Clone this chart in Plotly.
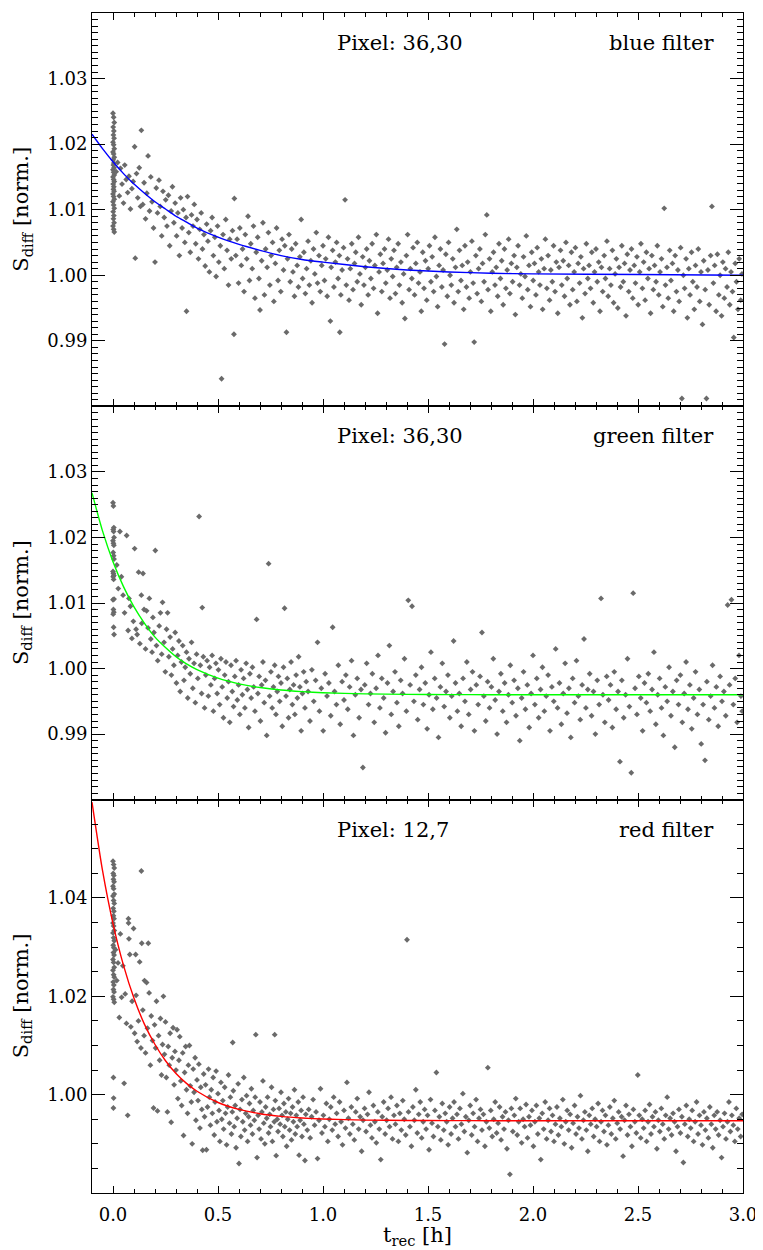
import plotly.graph_objects as go
from plotly.subplots import make_subplots

# ---------------- data ----------------
fit_t = [-0.1, -0.05, 0.0, 0.05, 0.1, 0.15, 0.2, 0.25, 0.3, 0.35, 0.4, 0.5, 0.6, 0.7,
         0.8, 0.9, 1.0, 1.2, 1.4, 1.6, 1.8, 2.0, 2.5, 3.0]
blue_fit = [1.0215, 1.0193, 1.0173, 1.0155, 1.0139, 1.0125, 1.0112, 1.0101, 1.0090, 1.0081,
            1.0072, 1.0058, 1.0047, 1.0038, 1.0030, 1.0024, 1.0020, 1.0013, 1.0008, 1.0005,
            1.0003, 1.0002, 1.0001, 1.0000]
green_fit = [1.0268, 1.0210, 1.0163, 1.0125, 1.0094, 1.0069, 1.0048, 1.0032, 1.0018, 1.0007,
             0.99983, 0.99853, 0.99767, 0.9971, 0.99672, 0.99648, 0.99631, 0.99614, 0.99606,
             0.99603, 0.99601, 0.9960, 0.9960, 0.9960]
red_fit = [1.0595, 1.0456, 1.0348, 1.0263, 1.0196, 1.0143, 1.0102, 1.0069, 1.0043, 1.0023,
           1.0007, 0.99841, 0.9970, 0.99613, 0.99559, 0.99525, 0.99504, 0.99483, 0.99475,
           0.99472, 0.99471, 0.9947, 0.9947, 0.9947]

blue_t = [
    0.000, 0.003, 0.006, 0.001, 0.004, 0.002, 0.005, 0.000, 0.003, 0.006,
    0.000, 0.003, 0.006, 0.001, 0.004, 0.002, 0.005, 0.000, 0.003, 0.006,
    0.000, 0.003, 0.006, 0.001, 0.004, 0.002, 0.005, 0.000, 0.003, 0.006,
    0.000, 0.003, 0.006, 0.001, 0.004, 0.002, 0.005, 0.000, 0.003, 0.006,
    0.015, 0.022, 0.030, 0.036, 0.043, 0.050, 0.056, 0.063, 0.070, 0.076,
    0.083, 0.090, 0.096, 0.103, 0.106, 0.112, 0.118, 0.125, 0.131, 0.135,
    0.142, 0.148, 0.155, 0.161, 0.167, 0.174, 0.180, 0.186, 0.193, 0.200,
    0.206, 0.212, 0.219, 0.225, 0.232, 0.238, 0.244, 0.251, 0.257, 0.264,
    0.270, 0.277, 0.283, 0.290, 0.296, 0.303, 0.309, 0.316, 0.322, 0.329,
    0.335, 0.342, 0.348, 0.350, 0.355, 0.361, 0.368, 0.374, 0.381, 0.387,
    0.394, 0.400, 0.407, 0.413, 0.420, 0.426, 0.433, 0.439, 0.446, 0.452,
    0.459, 0.465, 0.472, 0.478, 0.485, 0.491, 0.498, 0.504, 0.511, 0.517,
    0.524, 0.530, 0.537, 0.543, 0.550, 0.556, 0.563, 0.569, 0.576, 0.578,
    0.585, 0.591, 0.598, 0.604, 0.611, 0.617, 0.624, 0.630, 0.637, 0.643,
    0.650, 0.656, 0.663, 0.669, 0.676, 0.682, 0.689, 0.695, 0.700, 0.708,
    0.714, 0.721, 0.727, 0.734, 0.740, 0.747, 0.753, 0.760, 0.766, 0.773,
    0.779, 0.786, 0.792, 0.799, 0.805, 0.812, 0.818, 0.826, 0.831, 0.838,
    0.844, 0.851, 0.857, 0.864, 0.870, 0.877, 0.883, 0.890, 0.896, 0.903,
    0.909, 0.916, 0.922, 0.929, 0.935, 0.942, 0.948, 0.955, 0.961, 0.968,
    0.974, 0.981, 0.987, 0.994, 1.000, 1.007, 1.013, 1.020, 1.026, 1.035,
    1.039, 1.046, 1.052, 1.059, 1.065, 1.072, 1.078, 1.080, 1.085, 1.091,
    1.098, 1.105, 1.111, 1.117, 1.124, 1.130, 1.137, 1.143, 1.150, 1.156,
    1.163, 1.169, 1.176, 1.182, 1.189, 1.195, 1.202, 1.208, 1.215, 1.221,
    1.228, 1.234, 1.241, 1.247, 1.254, 1.260, 1.267, 1.273, 1.280, 1.286,
    1.293, 1.299, 1.306, 1.312, 1.319, 1.325, 1.332, 1.338, 1.345, 1.351,
    1.358, 1.364, 1.371, 1.377, 1.384, 1.390, 1.397, 1.403, 1.410, 1.416,
    1.423, 1.429, 1.436, 1.442, 1.449, 1.455, 1.462, 1.468, 1.475, 1.481,
    1.488, 1.494, 1.501, 1.507, 1.514, 1.520, 1.527, 1.533, 1.540, 1.546,
    1.553, 1.559, 1.566, 1.572, 1.579, 1.585, 1.592, 1.598, 1.605, 1.611,
    1.618, 1.624, 1.631, 1.637, 1.644, 1.650, 1.657, 1.663, 1.670, 1.676,
    1.683, 1.689, 1.696, 1.702, 1.709, 1.715, 1.720, 1.728, 1.734, 1.741,
    1.747, 1.754, 1.760, 1.767, 1.773, 1.780, 1.786, 1.793, 1.799, 1.806,
    1.812, 1.819, 1.825, 1.832, 1.838, 1.845, 1.851, 1.858, 1.864, 1.871,
    1.877, 1.884, 1.890, 1.897, 1.903, 1.910, 1.916, 1.923, 1.929, 1.936,
    1.942, 1.949, 1.955, 1.962, 1.968, 1.975, 1.981, 1.988, 1.994, 2.001,
    2.007, 2.014, 2.020, 2.027, 2.033, 2.040, 2.046, 2.053, 2.059, 2.066,
    2.072, 2.079, 2.085, 2.092, 2.098, 2.105, 2.111, 2.118, 2.124, 2.131,
    2.137, 2.144, 2.150, 2.157, 2.163, 2.170, 2.176, 2.183, 2.189, 2.196,
    2.202, 2.209, 2.215, 2.222, 2.228, 2.235, 2.241, 2.248, 2.254, 2.261,
    2.267, 2.274, 2.280, 2.287, 2.293, 2.300, 2.306, 2.313, 2.319, 2.326,
    2.332, 2.339, 2.345, 2.352, 2.358, 2.365, 2.371, 2.378, 2.384, 2.391,
    2.397, 2.404, 2.410, 2.417, 2.423, 2.430, 2.436, 2.443, 2.449, 2.456,
    2.462, 2.469, 2.475, 2.482, 2.488, 2.495, 2.501, 2.508, 2.514, 2.521,
    2.527, 2.534, 2.540, 2.547, 2.553, 2.560, 2.566, 2.573, 2.579, 2.586,
    2.592, 2.599, 2.605, 2.612, 2.618, 2.625, 2.631, 2.638, 2.644, 2.651,
    2.657, 2.664, 2.670, 2.677, 2.683, 2.690, 2.696, 2.703, 2.709, 2.716,
    2.722, 2.729, 2.735, 2.742, 2.748, 2.755, 2.761, 2.768, 2.774, 2.781,
    2.787, 2.794, 2.800, 2.807, 2.813, 2.820, 2.826, 2.833, 2.839, 2.846,
    2.852, 2.859, 2.865, 2.872, 2.878, 2.885, 2.891, 2.898, 2.904, 2.911,
    2.917, 2.924, 2.930, 2.937, 2.943, 2.950, 2.956, 2.963, 2.969, 2.976,
    2.982, 2.989, 2.995,
]
blue_s = [
    1.0247, 1.0241, 1.0233, 1.0226, 1.0220, 1.0214, 1.0209, 1.0203, 1.0199, 1.0193,
    1.0188, 1.0185, 1.0180, 1.0176, 1.0171, 1.0168, 1.0164, 1.0161, 1.0157, 1.0153,
    1.0150, 1.0146, 1.0143, 1.0139, 1.0135, 1.0131, 1.0128, 1.0124, 1.0120, 1.0116,
    1.0112, 1.0107, 1.0102, 1.0097, 1.0091, 1.0086, 1.0080, 1.0075, 1.0070, 1.0066,
    1.0158, 1.0172, 1.0121, 1.0163, 1.0139, 1.0110, 1.0168, 1.0146, 1.0126, 1.0151,
    1.0101, 1.0132, 1.0143, 1.0196, 1.0026, 1.0155, 1.0118, 1.0164, 1.0105, 1.0221,
    1.0108, 1.0141, 1.0086, 1.0125, 1.0182, 1.0098, 1.0150, 1.0112, 1.0072, 1.0020,
    1.0133, 1.0095, 1.0145, 1.0105, 1.0060, 1.0128, 1.0088, 1.0115, 1.0075, 1.0122,
    1.0045, 1.0098, 1.0135, 1.0080, 1.0110, 1.0060, 1.0095, 1.0030, 1.0118, 1.0072,
    1.0100, 1.0050, 1.0088, 0.9945, 1.0120, 1.0065, 1.0035, 1.0092, 1.0075, 1.0108,
    1.0048, 1.0085, 1.0025, 1.0070, 1.0095, 1.0040, 1.0062, 1.0014, 1.0078, 1.0052,
    1.0005, 1.0068, 1.0088, 1.0030, 1.0058, 0.9998, 1.0075, 1.0020, 1.0045, 0.9842,
    1.0062, 1.0010, 1.0085, 1.0038, 0.9985, 1.0055, 1.0025, 1.0068, 0.9910, 1.0117,
    1.0030, 1.0055, 0.9988, 1.0072, 1.0015, 1.0040, 0.9975, 1.0062, 1.0025, 1.0090,
    0.9992, 1.0048, 1.0010, 1.0075, 0.9965, 1.0035, 1.0058, 0.9995, 0.9947, 1.0022,
    1.0080, 0.9970, 1.0040, 1.0012, 1.0065, 0.9985, 1.0030, 1.0050, 0.9960, 1.0018,
    1.0072, 0.9992, 1.0038, 0.9975, 1.0055, 1.0008, 1.0045, 0.9913, 1.0025, 1.0062,
    0.9990, 1.0040, 1.0005, 0.9968, 1.0048, 1.0015, 0.9982, 1.0028, 1.0085, 0.9995,
    1.0035, 0.9972, 1.0010, 1.0052, 0.9985, 1.0022, 0.9958, 1.0040, 1.0002, 1.0065,
    0.9988, 1.0030, 0.9975, 1.0015, 1.0045, 0.9992, 1.0025, 0.9968, 1.0058, 0.9930,
    1.0012, 1.0038, 0.9982, 1.0020, 1.0050, 0.9995, 1.0030, 0.9913, 0.9970, 1.0008,
    1.0042, 1.0115, 0.9985, 1.0025, 0.9962, 1.0010, 1.0048, 0.9978, 1.0018, 1.0035,
    0.9990, 1.0058, 1.0002, 0.9955, 1.0028, 0.9985, 1.0012, 1.0040, 0.9970, 1.0022,
    0.9995, 1.0048, 0.9980, 1.0015, 1.0062, 0.9942, 1.0005, 1.0032, 0.9975, 1.0018,
    1.0040, 0.9988, 1.0008, 1.0055, 0.9965, 1.0025, 0.9998, 1.0038, 0.9972, 1.0012,
    1.0048, 0.9985, 1.0020, 0.9958, 1.0002, 0.9934, 1.0030, 1.0062, 0.9978, 1.0010,
    0.9995, 1.0042, 0.9970, 1.0018, 1.0050, 0.9988, 1.0005, 0.9945, 1.0035, 0.9980,
    1.0022, 0.9962, 1.0010, 1.0045, 0.9990, 1.0028, 0.9975, 1.0058, 0.9998, 0.9952,
    1.0015, 1.0040, 0.9982, 1.0008, 0.9895, 1.0032, 0.9968, 1.0050, 1.0000, 0.9985,
    1.0025, 0.9958, 1.0012, 1.0070, 0.9975, 1.0038, 0.9992, 1.0015, 0.9948, 1.0045,
    0.9982, 1.0020, 0.9965, 1.0005, 1.0052, 0.9988, 0.9898, 1.0030, 0.9972, 1.0010,
    1.0040, 0.9960, 1.0018, 0.9990, 1.0062, 1.0092, 0.9978, 1.0025, 0.9945, 1.0005,
    1.0035, 0.9985, 1.0012, 0.9968, 1.0048, 0.9995, 1.0022, 0.9955, 1.0040, 0.9980,
    1.0008, 1.0055, 0.9972, 1.0018, 0.9990, 1.0030, 0.9940, 1.0012, 1.0045, 0.9985,
    1.0002, 0.9965, 1.0028, 0.9998, 1.0060, 0.9978, 1.0015, 0.9952, 1.0035, 0.9992,
    1.0018, 0.9970, 1.0042, 1.0005, 0.9985, 1.0025, 0.9948, 1.0010, 1.0055, 0.9980,
    1.0030, 0.9962, 1.0008, 0.9990, 1.0045, 0.9975, 1.0020, 0.9942, 1.0012, 1.0038,
    0.9985, 1.0022, 0.9968, 1.0050, 0.9995, 1.0015, 0.9955, 1.0035, 0.9978, 1.0005,
    1.0042, 0.9960, 1.0018, 0.9988, 1.0028, 0.9935, 1.0010, 0.9972, 1.0048, 0.9995,
    1.0015, 0.9980, 1.0035, 0.9958, 1.0005, 1.0040, 0.9990, 1.0020, 0.9945, 1.0012,
    0.9975, 1.0030, 0.9995, 1.0052, 0.9968, 1.0010, 0.9985, 1.0038, 0.9958, 1.0002,
    1.0025, 0.9950, 1.0012, 0.9982, 1.0045, 0.9990, 1.0018, 0.9938, 1.0032, 0.9975,
    1.0008, 1.0040, 0.9965, 1.0015, 0.9988, 1.0028, 0.9955, 1.0005, 1.0048, 0.9980,
    1.0020, 0.9962, 1.0035, 0.9995, 1.0010, 0.9942, 1.0030, 0.9978, 1.0015, 0.9990,
    1.0045, 0.9970, 1.0005, 1.0025, 0.9952, 1.0102, 0.9985, 1.0012, 0.9965, 1.0038,
    0.9992, 1.0018, 0.9945, 1.0030, 0.9975, 1.0008, 0.9960, 1.0042, 0.9812, 1.0000,
    0.9980, 1.0025, 0.9935, 1.0010, 0.9970, 1.0035, 0.9990, 0.9948, 1.0015, 0.9982,
    1.0040, 0.9960, 1.0005, 0.9925, 1.0022, 0.9978, 0.9812, 1.0008, 0.9955, 1.0030,
    1.0105, 0.9988, 1.0015, 0.9945, 1.0032, 0.9970, 1.0000, 0.9938, 1.0020, 0.9965,
    1.0010, 0.9982, 1.0035, 0.9955, 1.0005, 0.9975, 0.9905, 1.0018, 0.9990, 0.9948,
    1.0025, 0.9962, 1.0002,
]

green_t = [
    0.000, 0.002, 0.004, 0.001, 0.003, 0.005, 0.000, 0.002, 0.004, 0.001,
    0.003, 0.005, 0.000, 0.002, 0.004, 0.001, 0.003, 0.005, 0.000, 0.002,
    0.004, 0.001, 0.003, 0.005,
    0.018, 0.025, 0.033, 0.040, 0.048, 0.055, 0.065, 0.072, 0.076, 0.083,
    0.090, 0.097, 0.103, 0.110, 0.115, 0.122, 0.128, 0.135, 0.137, 0.143,
    0.148, 0.155, 0.160, 0.167, 0.173, 0.180, 0.186, 0.190, 0.195, 0.2015,
    0.207, 0.213, 0.220, 0.226, 0.232, 0.236, 0.243, 0.249, 0.255, 0.260,
    0.266, 0.272, 0.278, 0.284, 0.290, 0.296, 0.302, 0.308, 0.314, 0.320,
    0.326, 0.332, 0.338, 0.344, 0.350, 0.356, 0.362, 0.368, 0.374, 0.380,
    0.386, 0.392, 0.398, 0.404, 0.410, 0.416, 0.422, 0.425, 0.430, 0.436,
    0.442, 0.448, 0.454, 0.460, 0.466, 0.472, 0.478, 0.484, 0.490, 0.496,
    0.502, 0.508, 0.514, 0.520, 0.526, 0.532, 0.538, 0.544, 0.550, 0.556,
    0.562, 0.568, 0.574, 0.580, 0.586, 0.592, 0.598, 0.604, 0.610, 0.616,
    0.622, 0.628, 0.634, 0.640, 0.646, 0.652, 0.658, 0.664, 0.670, 0.676,
    0.684, 0.690, 0.696, 0.702, 0.708, 0.714, 0.720, 0.726, 0.732, 0.741,
    0.746, 0.752, 0.758, 0.764, 0.770, 0.776, 0.782, 0.788, 0.794, 0.800,
    0.806, 0.812, 0.817, 0.824, 0.830, 0.836, 0.842, 0.848, 0.854, 0.860,
    0.866, 0.872, 0.878, 0.884, 0.890, 0.896, 0.902, 0.908, 0.914, 0.920,
    0.929, 0.938, 0.947, 0.956, 0.965, 0.974, 0.983, 0.992, 1.001, 1.010,
    1.019, 1.028, 1.037, 1.046, 1.055, 1.064, 1.073, 1.082, 1.091, 1.100,
    1.109, 1.118, 1.127, 1.136, 1.145, 1.154, 1.163, 1.172, 1.181, 1.190,
    1.199, 1.208, 1.217, 1.226, 1.235, 1.244, 1.253, 1.262, 1.271, 1.280,
    1.289, 1.298, 1.307, 1.316, 1.325, 1.334, 1.343, 1.352, 1.361, 1.370,
    1.379, 1.388, 1.397, 1.406, 1.415, 1.424, 1.433, 1.442, 1.451, 1.460,
    1.469, 1.478, 1.487, 1.496, 1.505, 1.514, 1.523, 1.532, 1.541, 1.550,
    1.559, 1.568, 1.577, 1.586, 1.595, 1.604, 1.613, 1.622, 1.631, 1.640,
    1.649, 1.658, 1.667, 1.676, 1.685, 1.694, 1.703, 1.712, 1.721, 1.730,
    1.739, 1.748, 1.757, 1.766, 1.775, 1.784, 1.793, 1.802, 1.811, 1.820,
    1.829, 1.838, 1.847, 1.856, 1.865, 1.874, 1.883, 1.892, 1.901, 1.910,
    1.919, 1.928, 1.937, 1.946, 1.955, 1.964, 1.973, 1.982, 1.991, 2.000,
    2.009, 2.018, 2.027, 2.036, 2.045, 2.054, 2.063, 2.072, 2.081, 2.090,
    2.099, 2.108, 2.117, 2.126, 2.135, 2.144, 2.153, 2.162, 2.171, 2.180,
    2.189, 2.198, 2.207, 2.216, 2.225, 2.234, 2.243, 2.252, 2.261, 2.270,
    2.279, 2.288, 2.297, 2.306, 2.315, 2.324, 2.333, 2.342, 2.351, 2.360,
    2.369, 2.378, 2.387, 2.396, 2.405, 2.414, 2.423, 2.432, 2.441, 2.450,
    2.459, 2.468, 2.477, 2.486, 2.495, 2.504, 2.513, 2.522, 2.531, 2.540,
    2.549, 2.558, 2.567, 2.576, 2.585, 2.594, 2.603, 2.612, 2.621, 2.630,
    2.639, 2.648, 2.657, 2.666, 2.675, 2.684, 2.693, 2.702, 2.711, 2.720,
    2.729, 2.738, 2.747, 2.756, 2.765, 2.774, 2.783, 2.792, 2.801, 2.810,
    2.819, 2.828, 2.837, 2.846, 2.855, 2.864, 2.873, 2.882, 2.891, 2.900,
    2.909, 2.918, 2.927, 2.936, 2.945, 2.954, 2.963, 2.972, 2.981, 2.990,
    2.996,
]
green_s = [
    1.0253, 1.0248, 1.0215, 1.0212, 1.0209, 1.0200, 1.0195, 1.0191, 1.0188, 1.0177,
    1.0172, 1.0167, 1.0148, 1.0145, 1.0142, 1.0140, 1.0136, 1.0106, 1.0105, 1.0090,
    1.0086, 1.0083, 1.0063, 1.0052,
    1.0158, 1.0122, 1.0209, 1.0140, 1.0112, 1.0085, 1.0203, 1.0058, 1.0107, 1.0095,
    1.0046, 1.0072, 1.0183, 1.0060, 1.0052, 1.0147, 1.0038, 1.0112, 1.0069, 1.0145,
    1.0090, 1.0030, 1.0088, 1.0062, 1.0107, 1.0045, 1.0025, 1.0078, 1.0055, 1.0180,
    1.0035, 1.0012, 1.0065, 1.0085, 1.0022, 1.0101, 1.0040, 0.9995, 1.0060, 1.0085,
    1.0018, 1.0048, 0.9990, 1.0030, 1.0005, 1.0055, 0.9978, 1.0020, 1.0042, 0.9965,
    1.0010, 1.0035, 0.9982, 1.0002, 1.0025, 0.9955, 1.0015, 0.9992, 1.0040, 0.9970,
    1.0008, 0.9948, 1.0022, 0.9985, 1.0232, 1.0005, 0.9962, 1.0093, 1.0018, 0.9940,
    0.9990, 1.0012, 0.9958, 1.0002, 0.9975, 1.0020, 0.9935, 0.9985, 1.0008, 0.9962,
    0.9998, 0.9945, 1.0015, 0.9972, 0.9925, 0.9990, 1.0010, 0.9955, 0.9980, 0.9918,
    1.0005, 0.9965, 0.9942, 0.9988, 1.0012, 0.9952, 0.9975, 0.9930, 0.9998, 0.9960,
    0.9985, 0.9940, 1.0008, 0.9968, 0.9910, 0.9992, 0.9955, 1.0002, 0.9972, 0.9935,
    1.0075, 0.9962, 0.9988, 0.9920, 0.9975, 1.0010, 0.9948, 0.9982, 0.9898, 1.0160,
    0.9958, 0.9995, 0.9940, 0.9972, 1.0005, 0.9930, 0.9965, 0.9988, 0.9950, 0.9978,
    0.9912, 1.0002, 1.0092, 0.9958, 0.9985, 0.9925, 0.9968, 1.0010, 0.9945, 0.9975,
    0.9930, 0.9990, 0.9955, 1.0018, 0.9972, 0.9905, 0.9962, 0.9995, 0.9940, 0.9980,
    0.9965, 0.9920, 0.9998, 0.9950, 0.9982, 1.0040, 0.9935, 0.9970, 0.9905, 0.9992,
    0.9958, 0.9978, 0.9928, 1.0063, 0.9965, 0.9945, 1.0005, 0.9915, 0.9980, 0.9952,
    0.9990, 0.9938, 0.9972, 1.0012, 0.9898, 0.9960, 0.9985, 0.9925, 0.9968, 0.9849,
    0.9975, 1.0008, 0.9945, 0.9962, 0.9992, 0.9918, 0.9970, 1.0020, 0.9940, 0.9985,
    0.9955, 0.9902, 0.9978, 1.0035, 0.9930, 0.9965, 0.9995, 0.9948, 0.9912, 0.9982,
    0.9962, 1.0015, 0.9935, 1.0104, 0.9975, 1.0095, 0.9950, 0.9990, 0.9922, 0.9968,
    1.0002, 0.9945, 0.9978, 0.9908, 0.9960, 1.0025, 0.9938, 0.9985, 0.9955, 0.9895,
    0.9972, 1.0008, 0.9942, 0.9965, 0.9990, 0.9925, 0.9958, 1.0042, 0.9978, 0.9935,
    0.9962, 0.9912, 0.9985, 0.9950, 1.0010, 0.9930, 0.9968, 0.9995, 0.9905, 0.9975,
    0.9945, 0.9988, 1.0055, 0.9958, 0.9920, 0.9980, 0.9940, 0.9972, 1.0015, 0.9952,
    0.9900, 0.9965, 0.9992, 0.9935, 0.9978, 0.9918, 0.9960, 1.0005, 0.9948, 0.9982,
    0.9928, 0.9970, 0.9890, 0.9955, 0.9995, 0.9938, 0.9975, 0.9910, 0.9962, 1.0020,
    0.9945, 0.9985, 0.9925, 0.9968, 1.0002, 0.9935, 0.9958, 0.9990, 0.9905, 0.9972,
    0.9950, 1.0030, 0.9940, 0.9978, 0.9915, 0.9962, 1.0008, 0.9932, 0.9970, 0.9895,
    0.9985, 0.9948, 1.0012, 0.9958, 0.9922, 0.9975, 1.0045, 0.9940, 0.9968, 0.9992,
    0.9928, 0.9965, 0.9900, 0.9982, 0.9945, 1.0107, 0.9960, 0.9918, 0.9988, 0.9952,
    0.9975, 0.9910, 0.9995, 0.9938, 0.9965, 0.9858, 0.9982, 0.9925, 0.9960, 1.0015,
    0.9942, 0.9841, 1.0115, 0.9970, 0.9930, 0.9988, 0.9955, 0.9905, 0.9978, 0.9948,
    0.9992, 0.9935, 0.9968, 1.0025, 0.9915, 0.9960, 0.9985, 0.9940, 0.9898, 0.9972,
    0.9950, 1.0002, 0.9928, 0.9965, 0.9880, 0.9982, 0.9945, 0.9990, 0.9918, 0.9962,
    1.0010, 0.9938, 0.9975, 0.9908, 0.9955, 0.9995, 0.9930, 0.9968, 0.9885, 0.9945,
    0.9860, 0.9980, 0.9922, 0.9958, 1.0005, 0.9940, 0.9972, 0.9912, 0.9988, 0.9950,
    0.9965, 0.9928, 1.0097, 0.9975, 1.0105, 0.9945, 0.9985, 0.9918, 1.0020, 0.9958,
    0.9935,
]

red_t = [
    0.000, 0.003, 0.006, 0.001, 0.004, 0.002, 0.005, 0.000, 0.003, 0.006,
    0.000, 0.003, 0.006, 0.001, 0.004, 0.002, 0.005, 0.000, 0.003, 0.006,
    0.000, 0.003, 0.006, 0.001, 0.004, 0.002, 0.005, 0.000, 0.003, 0.006,
    0.000, 0.003, 0.006, 0.001, 0.004, 0.002, 0.005, 0.000, 0.003, 0.006,
    0.002, 0.003, 0.002,
    0.012, 0.018, 0.024, 0.030, 0.035, 0.041, 0.047, 0.053, 0.058, 0.064,
    0.070, 0.0735, 0.074, 0.076, 0.080, 0.085, 0.091, 0.098, 0.103, 0.108,
    0.110, 0.115, 0.121, 0.127, 0.133, 0.135, 0.137, 0.142, 0.148, 0.150,
    0.155, 0.160, 0.164, 0.168, 0.172, 0.178, 0.182, 0.188, 0.193, 0.198,
    0.203, 0.207, 0.212, 0.217, 0.222, 0.226, 0.231, 0.236, 0.240, 0.245,
    0.250, 0.254, 0.259, 0.263, 0.268, 0.272, 0.277, 0.282, 0.286, 0.291,
    0.295, 0.300, 0.305, 0.309, 0.314, 0.318, 0.323, 0.327, 0.332, 0.336,
    0.341, 0.346, 0.350, 0.355, 0.359, 0.364, 0.368, 0.373, 0.377, 0.382,
    0.386, 0.391, 0.395, 0.400, 0.405, 0.409, 0.414, 0.418, 0.423, 0.427,
    0.432, 0.436, 0.441, 0.445, 0.450, 0.455, 0.459, 0.464, 0.468, 0.473,
    0.477, 0.482, 0.486, 0.491, 0.495, 0.500, 0.505, 0.509, 0.514, 0.518,
    0.523, 0.527, 0.532, 0.536, 0.541, 0.546, 0.550, 0.555, 0.559, 0.564,
    0.568, 0.570, 0.573, 0.577, 0.582, 0.586, 0.591, 0.596, 0.600, 0.605,
    0.609, 0.614, 0.618, 0.623, 0.627, 0.632, 0.636, 0.641, 0.646, 0.650,
    0.655, 0.659, 0.664, 0.668, 0.673, 0.677, 0.680, 0.686, 0.691, 0.696,
    0.700, 0.705, 0.709, 0.714, 0.718, 0.723, 0.727, 0.732, 0.736, 0.741,
    0.746, 0.750, 0.755, 0.759, 0.764, 0.768, 0.770, 0.773, 0.777, 0.782,
    0.786, 0.791, 0.796, 0.800, 0.805, 0.809, 0.814, 0.818, 0.823, 0.827,
    0.832, 0.836, 0.841, 0.846, 0.850, 0.855, 0.859, 0.864, 0.868, 0.873,
    0.877, 0.882, 0.886, 0.891, 0.896, 0.900, 0.905, 0.909, 0.914, 0.918,
    0.925, 0.932, 0.939, 0.946, 0.953, 0.960, 0.967, 0.974, 0.981, 0.988,
    0.995, 1.002, 1.009, 1.016, 1.023, 1.030, 1.037, 1.044, 1.051, 1.058,
    1.065, 1.072, 1.079, 1.086, 1.093, 1.100, 1.107, 1.114, 1.121, 1.128,
    1.135, 1.142, 1.149, 1.156, 1.163, 1.170, 1.177, 1.184, 1.191, 1.198,
    1.205, 1.212, 1.219, 1.226, 1.233, 1.240, 1.247, 1.254, 1.261, 1.268,
    1.275, 1.282, 1.289, 1.296, 1.303, 1.310, 1.317, 1.324, 1.331, 1.338,
    1.345, 1.352, 1.359, 1.366, 1.373, 1.380, 1.387, 1.394, 1.400, 1.407,
    1.414, 1.421, 1.428, 1.435, 1.442, 1.449, 1.456, 1.463, 1.470, 1.477,
    1.484, 1.491, 1.498, 1.505, 1.512, 1.519, 1.526, 1.533, 1.540, 1.547,
    1.554, 1.561, 1.568, 1.575, 1.582, 1.589, 1.596, 1.603, 1.610, 1.617,
    1.624, 1.631, 1.638, 1.645, 1.652, 1.659, 1.666, 1.673, 1.680, 1.687,
    1.694, 1.701, 1.708, 1.715, 1.722, 1.729, 1.736, 1.743, 1.750, 1.757,
    1.764, 1.771, 1.778, 1.785, 1.792, 1.799, 1.806, 1.813, 1.820, 1.827,
    1.834, 1.841, 1.848, 1.855, 1.862, 1.869, 1.876, 1.883, 1.890, 1.897,
    1.904, 1.911, 1.918, 1.925, 1.932, 1.939, 1.946, 1.953, 1.960, 1.967,
    1.974, 1.981, 1.988, 1.995, 2.002, 2.009, 2.016, 2.023, 2.030, 2.037,
    2.044, 2.051, 2.058, 2.065, 2.072, 2.079, 2.086, 2.093, 2.100, 2.107,
    2.114, 2.121, 2.128, 2.135, 2.142, 2.149, 2.156, 2.163, 2.170, 2.177,
    2.184, 2.191, 2.198, 2.205, 2.212, 2.219, 2.226, 2.233, 2.240, 2.247,
    2.254, 2.261, 2.268, 2.275, 2.282, 2.289, 2.296, 2.303, 2.310, 2.317,
    2.324, 2.331, 2.338, 2.345, 2.352, 2.359, 2.366, 2.373, 2.380, 2.387,
    2.394, 2.401, 2.408, 2.415, 2.422, 2.429, 2.436, 2.443, 2.450, 2.457,
    2.464, 2.471, 2.478, 2.485, 2.492, 2.499, 2.506, 2.513, 2.520, 2.527,
    2.534, 2.541, 2.548, 2.555, 2.562, 2.569, 2.576, 2.583, 2.590, 2.597,
    2.604, 2.611, 2.618, 2.625, 2.632, 2.639, 2.646, 2.653, 2.660, 2.667,
    2.674, 2.681, 2.688, 2.695, 2.702, 2.709, 2.716, 2.723, 2.730, 2.737,
    2.744, 2.751, 2.758, 2.765, 2.772, 2.779, 2.786, 2.793, 2.800, 2.807,
    2.814, 2.821, 2.828, 2.835, 2.842, 2.849, 2.856, 2.863, 2.870, 2.877,
    2.884, 2.891, 2.898, 2.905, 2.912, 2.919, 2.926, 2.933, 2.940, 2.947,
    2.954, 2.961, 2.968, 2.975, 2.982, 2.989, 2.996,
]
red_s = [
    1.0475, 1.0468, 1.0461, 1.0450, 1.0446, 1.0438, 1.0433, 1.0424, 1.0419, 1.0408,
    1.0404, 1.0395, 1.0389, 1.0379, 1.0373, 1.0364, 1.0358, 1.0349, 1.0343, 1.0334,
    1.0329, 1.0319, 1.0313, 1.0304, 1.0299, 1.0289, 1.0284, 1.0275, 1.0269, 1.0259,
    1.0253, 1.0244, 1.0239, 1.0229, 1.0223, 1.0214, 1.0209, 1.0199, 1.0194, 1.0188,
    1.0035, 0.9993, 0.9973,
    1.0295, 1.0232, 1.0268, 1.0157, 1.0327, 1.0198, 1.0262, 1.0023, 1.0205, 1.0145,
    0.9958, 1.0358, 1.0349, 1.0317, 1.0285, 1.0138, 1.0190, 1.0338, 1.0125, 1.0285,
    1.0202, 1.0108, 1.0150, 1.0270, 1.0095, 1.0455, 1.0308, 1.0172, 1.0120, 1.0232,
    1.0085, 1.0228, 1.0135, 1.0308, 1.0207, 1.0060, 1.0160, 1.0110, 0.9973, 1.0142,
    1.0095, 1.0190, 0.9967, 1.0120, 1.0070, 1.0155, 1.0040, 1.0102, 1.0200, 1.0082,
    1.0148, 1.0035, 0.9965, 1.0098, 1.0060, 1.0125, 0.9944, 1.0075, 1.0136, 1.0020,
    1.0088, 1.0050, 1.0132, 0.9992, 1.0070, 1.0118, 1.0028, 0.9978, 1.0085, 0.9917,
    1.0045, 1.0098, 1.0010, 0.9962, 1.0060, 1.0100, 1.0018, 0.9985, 0.9900, 1.0052,
    1.0005, 1.0075, 0.9948, 1.0030, 0.9988, 1.0062, 0.9932, 1.0015, 0.9970, 0.9887,
    1.0042, 0.9955, 1.0020, 0.9888, 0.9975, 1.0052, 0.9995, 0.9938, 1.0010, 0.9962,
    1.0035, 0.9918, 0.9985, 1.0048, 0.9945, 1.0002, 0.9968, 0.9905, 1.0025, 0.9950,
    0.9988, 0.9930, 1.0015, 0.9962, 0.9898, 0.9975, 1.0040, 0.9942, 0.9995, 0.9920,
    0.9965, 1.0106, 1.0008, 0.9935, 0.9978, 0.9892, 0.9952, 1.0022, 0.9860, 0.9970,
    0.9915, 0.9990, 0.9945, 1.0035, 0.9928, 0.9962, 0.9998, 0.9905, 0.9955, 0.9982,
    0.9938, 1.0012, 0.9920, 0.9968, 0.9948, 0.9995, 1.0122, 0.9872, 0.9958, 0.9930,
    0.9985, 0.9910, 0.9965, 1.0028, 0.9942, 0.9900, 0.9975, 0.9952, 0.9995, 0.9922,
    0.9960, 0.9935, 1.0015, 0.9905, 0.9970, 0.9945, 1.0122, 0.9988, 0.9876, 0.9950,
    0.9925, 0.9972, 0.9940, 1.0005, 0.9958, 0.9915, 0.9982, 0.9935, 0.9965, 0.9895,
    0.9950, 0.9992, 0.9928, 0.9962, 0.9908, 0.9975, 0.9945, 1.0010, 0.9920, 0.9958,
    0.9935, 0.9985, 0.9877, 0.9948, 0.9968, 0.9915, 0.9995, 0.9940, 0.9866, 0.9960,
    0.9928, 0.9970, 0.9912, 0.9955, 0.9990, 0.9938, 0.9965, 0.9870, 0.9948, 1.0012,
    0.9922, 0.9958, 0.9935, 0.9982, 0.9905, 0.9950, 0.9975, 0.9928, 0.9995, 0.9940,
    0.9962, 0.9915, 0.9985, 0.9945, 0.9898, 0.9968, 0.9932, 1.0025, 0.9952, 0.9920,
    0.9975, 0.9940, 0.9908, 0.9965, 0.9992, 0.9930, 0.9955, 0.9885, 0.9948, 0.9972,
    0.9925, 0.9960, 1.0005, 0.9938, 0.9912, 0.9978, 0.9945, 0.9902, 0.9965, 0.9930,
    0.9868, 0.9955, 0.9985, 0.9920, 0.9948, 0.9972, 0.9935, 0.9995, 0.9910, 0.9958,
    0.9940, 0.9978, 0.9905, 0.9962, 0.9928, 0.9988, 0.9950, 0.9918, 1.0315, 0.9965,
    0.9935, 0.9895, 0.9975, 0.9948, 1.0010, 0.9922, 0.9960, 0.9985, 0.9912, 0.9945,
    0.9970, 0.9930, 0.9958, 0.9888, 0.9990, 0.9942, 0.9915, 0.9968, 1.0045, 0.9935,
    0.9955, 0.9908, 0.9982, 0.9928, 0.9962, 0.9945, 0.9898, 0.9975, 0.9920, 0.9952,
    0.9985, 0.9935, 0.9960, 0.9910, 0.9972, 0.9940, 1.0002, 0.9925, 0.9955, 0.9882,
    0.9948, 0.9978, 0.9918, 0.9962, 0.9935, 0.9990, 0.9905, 0.9952, 0.9970, 0.9928,
    0.9960, 0.9895, 0.9945, 1.0055, 0.9932, 0.9968, 0.9915, 0.9950, 0.9985, 0.9922,
    0.9942, 0.9975, 0.9908, 0.9955, 0.9930, 0.9965, 0.9890, 0.9948, 0.9838, 0.9972,
    0.9925, 0.9958, 0.9992, 0.9918, 0.9945, 0.9972, 0.9902, 0.9950, 0.9935, 0.9980,
    0.9912, 0.9955, 0.9938, 0.9968, 0.9895, 0.9945, 0.9978, 0.9920, 0.9952, 0.9868,
    0.9962, 0.9930, 0.9985, 0.9910, 0.9948, 0.9972, 0.9925, 0.9958, 0.9905, 0.9940,
    0.9975, 0.9918, 0.9952, 0.9935, 0.9990, 0.9900, 0.9945, 0.9968, 0.9928, 0.9960,
    0.9892, 0.9942, 0.9978, 0.9920, 0.9955, 0.9932, 0.9998, 0.9910, 0.9948, 0.9965,
    0.9928, 0.9885, 0.9958, 0.9940, 0.9972, 0.9915, 0.9950, 0.9935, 0.9982, 0.9905,
    0.9945, 0.9968, 0.9925, 0.9958, 0.9898, 0.9938, 0.9975, 0.9920, 0.9952, 0.9988,
    0.9910, 0.9942, 0.9965, 0.9930, 0.9955, 0.9875, 0.9948, 0.9978, 0.9918, 0.9960,
    0.9935, 0.9895, 0.9970, 0.9945, 0.9922, 1.0040, 0.9958, 0.9912, 0.9950, 0.9932,
    0.9968, 0.9905, 0.9945, 0.9980, 0.9920, 0.9955, 0.9935, 0.9965, 0.9890, 0.9948,
    0.9925, 0.9972, 0.9940, 0.9910, 0.9958, 0.9995, 0.9930, 0.9952, 0.9918, 0.9962,
    0.9945, 0.9885, 0.9935, 0.9970, 0.9922, 0.9955, 0.9862, 0.9940, 0.9978, 0.9915,
    0.9950, 0.9932, 0.9968, 0.9905, 0.9945, 0.9985, 0.9920, 0.9958, 0.9938, 0.9898,
    0.9965, 0.9928, 0.9952, 0.9912, 0.9975, 0.9940, 0.9892, 0.9958, 0.9930, 0.9965,
    0.9918, 0.9948, 0.9872, 0.9935, 0.9962, 0.9910, 0.9945, 0.9985, 0.9925, 0.9958,
    0.9938, 0.9905, 0.9972, 0.9930, 0.9952, 0.9915, 0.9960,
]

panels = [
    dict(t=blue_t, s=blue_s, fit=blue_fit, color="#0000ff", pixel="Pixel: 36,30",
         label="blue filter", yrange=[0.98, 1.04], ticks=[0.99, 1.00, 1.01, 1.02, 1.03], minor=0.001),
    dict(t=green_t, s=green_s, fit=green_fit, color="#00ff00", pixel="Pixel: 36,30",
         label="green filter", yrange=[0.98, 1.04], ticks=[0.99, 1.00, 1.01, 1.02, 1.03], minor=0.001),
    dict(t=red_t, s=red_s, fit=red_fit, color="#ff0000", pixel="Pixel: 12,7",
         label="red filter", yrange=[0.98, 1.06], ticks=[1.00, 1.02, 1.04], minor=0.005),
]

FONT = "DejaVu Serif"
fig = make_subplots(rows=3, cols=1, shared_xaxes=True, vertical_spacing=0)

for i, p in enumerate(panels, start=1):
    n = min(len(p["t"]), len(p["s"]))
    fig.add_trace(go.Scatter(
        x=p["t"][:n], y=p["s"][:n], mode="markers",
        marker=dict(symbol="diamond", size=4.5, color="#6a6a6a", line=dict(width=0)),
        showlegend=False, hoverinfo="skip"), row=i, col=1)
    fig.add_trace(go.Scatter(
        x=fit_t, y=p["fit"], mode="lines",
        line=dict(color=p["color"], width=1.4, shape="spline", smoothing=0.6),
        showlegend=False, hoverinfo="skip"), row=i, col=1)

    fig.update_yaxes(
        range=p["yrange"], tickmode="array", tickvals=p["ticks"],
        ticktext=[f"{v:.2f}" for v in p["ticks"]],
        ticks="inside", ticklen=13, tickwidth=1, tickcolor="black",
        minor=dict(tickmode="linear", tick0=0.98, dtick=p["minor"], ticks="inside",
                   ticklen=6, tickwidth=1, tickcolor="black"),
        showline=True, linecolor="black", linewidth=1, mirror="ticks",
        showgrid=False, zeroline=False,
        tickfont=dict(family=FONT, size=18, color="black"), ticklabelstandoff=0,
        row=i, col=1)

    fig.update_xaxes(
        range=[-0.1, 3.0], tickmode="linear", tick0=0.0, dtick=0.5, tickformat=".1f",
        ticks="inside", ticklen=7, tickwidth=1, tickcolor="black",
        minor=dict(tickmode="linear", tick0=0.0, dtick=0.1, ticks="inside",
                   ticklen=4, tickwidth=1, tickcolor="black"),
        showline=True, linecolor="black", linewidth=1, mirror="ticks",
        showgrid=False, zeroline=False,
        tickfont=dict(family=FONT, size=18, color="black"), ticklabelstandoff=5,
        row=i, col=1)

    yref = "y domain" if i == 1 else f"y{i} domain"
    xref = "x domain" if i == 1 else f"x{i} domain"
    fig.add_annotation(text=p["pixel"], xref=xref, yref=yref, x=0.3738, y=0.924,
                       xanchor="left", yanchor="middle", showarrow=False,
                       font=dict(family=FONT, size=21, color="black"))
    fig.add_annotation(text=p["label"], xref=xref, yref=yref, x=0.959, y=0.924,
                       xanchor="right", yanchor="middle", showarrow=False,
                       font=dict(family=FONT, size=21, color="black"))
    fig.add_annotation(text="S<sub>diff</sub> [norm.]", xref="paper", yref=yref,
                       x=-0.1075, y=0.5, xanchor="center", yanchor="middle",
                       textangle=-90, showarrow=False,
                       font=dict(family=FONT, size=21, color="black"))

fig.add_annotation(text="t<sub>rec</sub> [h]", xref="paper", yref="paper",
                   x=0.5, y=-0.0364, xanchor="center", yanchor="middle", showarrow=False,
                   font=dict(family=FONT, size=21, color="black"))

# The page body adds an 8 px margin; size and margins compensate for it.
fig.update_layout(
    width=755, height=1242,
    margin=dict(l=84, r=20, t=5, b=57),
    plot_bgcolor="white", paper_bgcolor="white",
    font=dict(family=FONT, color="black"),
    showlegend=False,
)

fig.write_html("out.html")
